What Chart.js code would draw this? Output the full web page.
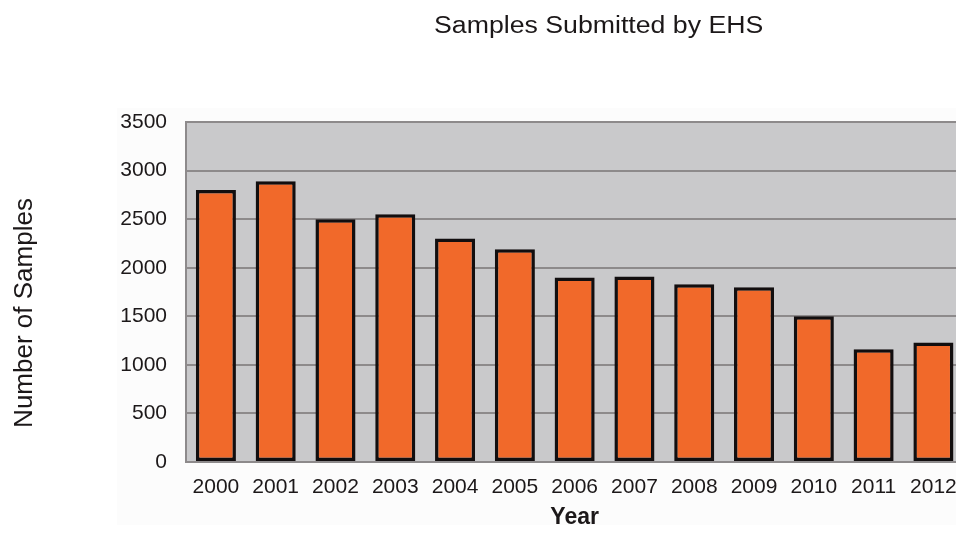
<!DOCTYPE html>
<html>
<head>
<meta charset="utf-8">
<title>Samples Submitted by EHS</title>
<script src="https://cdn.jsdelivr.net/npm/chart.js@4/dist/chart.umd.min.js"></script>
<style>
  html, body { margin: 0; padding: 0; background: #ffffff; overflow: hidden; }
  canvas { display: block; }
</style>
</head>
<body>
<canvas id="chart" width="970" height="533"></canvas>
<script>
// Samples submitted per year
const years = ['2000', '2001', '2002', '2003', '2004', '2005', '2006', '2007', '2008', '2009', '2010', '2011', '2012'];
const samples = [2800, 2890, 2500, 2550, 2300, 2190, 1900, 1910, 1830, 1800, 1500, 1160, 1230];
const yTicks = [0, 500, 1000, 1500, 2000, 2500, 3000, 3500];

const chartTitle = 'Samples Submitted by EHS';
const yTitle = 'Number of Samples';
const xTitle = 'Year';

const textColor = '#1c1819';
const gridColor = '#8d8a8b';

// Panel backgrounds plus the stretched headline and the side caption
const decorations = {
  id: 'decorations',
  beforeDraw(chart) {
    const { ctx, chartArea: a, width } = chart;
    ctx.save();
    ctx.fillStyle = '#fcfcfc';
    ctx.fillRect(a.left - 69, a.top - 14, width - (a.left - 69), a.bottom + 63 - (a.top - 14));
    ctx.fillStyle = '#c9c9cb';
    ctx.fillRect(a.left, a.top, a.right - a.left, a.bottom - a.top);
    ctx.restore();
  },
  afterDraw(chart) {
    const { ctx, chartArea: a } = chart;
    ctx.save();
    ctx.fillStyle = textColor;
    ctx.textAlign = 'center';
    ctx.textBaseline = 'alphabetic';

    // headline
    ctx.font = '23px "Liberation Sans", Arial, sans-serif';
    ctx.translate((a.left + a.right) / 2 + 24, 33);
    ctx.scale(1.16, 1);
    ctx.fillText(chartTitle, 0, 0);
    ctx.restore();

    // vertical caption
    ctx.save();
    ctx.fillStyle = textColor;
    ctx.textAlign = 'center';
    ctx.textBaseline = 'alphabetic';
    ctx.font = '26px "Liberation Sans", Arial, sans-serif';
    ctx.translate(32, (a.top + a.bottom) / 2 + 21);
    ctx.rotate(-Math.PI / 2);
    ctx.fillText(yTitle, 0, 0);
    ctx.restore();
  }
};

new Chart(document.getElementById('chart'), {
  type: 'bar',
  data: {
    labels: years,
    datasets: [{
      label: 'Samples',
      data: samples,
      backgroundColor: '#f1692a',
      borderColor: '#120e0f',
      borderWidth: 3.5,
      borderSkipped: false,
      barPercentage: 0.67,
      categoryPercentage: 1.0
    }]
  },
  options: {
    responsive: false,
    animation: false,
    layout: { padding: { left: 120, right: 6, top: 122, bottom: 0 } },
    plugins: {
      legend: { display: false },
      title: { display: false },
      tooltip: { enabled: false }
    },
    scales: {
      x: {
        grid: { display: false, drawTicks: false },
        border: { display: true, color: gridColor, width: 2 },
        ticks: {
          color: textColor,
          padding: 13,
          maxRotation: 0,
          font: { family: '"Liberation Sans", Arial, sans-serif', size: 21 }
        },
        title: {
          display: true,
          text: xTitle,
          color: textColor,
          padding: { top: 0, bottom: 2 },
          font: { family: '"Liberation Sans", Arial, sans-serif', size: 23, weight: 'bold' }
        },
        afterFit(scale) { scale.height = 71; }
      },
      y: {
        min: 0,
        max: 3500,
        afterBuildTicks(scale) { scale.ticks = yTicks.map(v => ({ value: v })); },
        grid: { color: gridColor, lineWidth: 2, drawTicks: false },
        border: { display: true, color: gridColor, width: 2 },
        ticks: {
          color: textColor,
          padding: 19,
          callback: v => String(v),
          font: { family: '"Liberation Sans", Arial, sans-serif', size: 21 }
        },
        afterFit(scale) { scale.width = 66; }
      }
    }
  },
  plugins: [decorations]
});
</script>
</body>
</html>
